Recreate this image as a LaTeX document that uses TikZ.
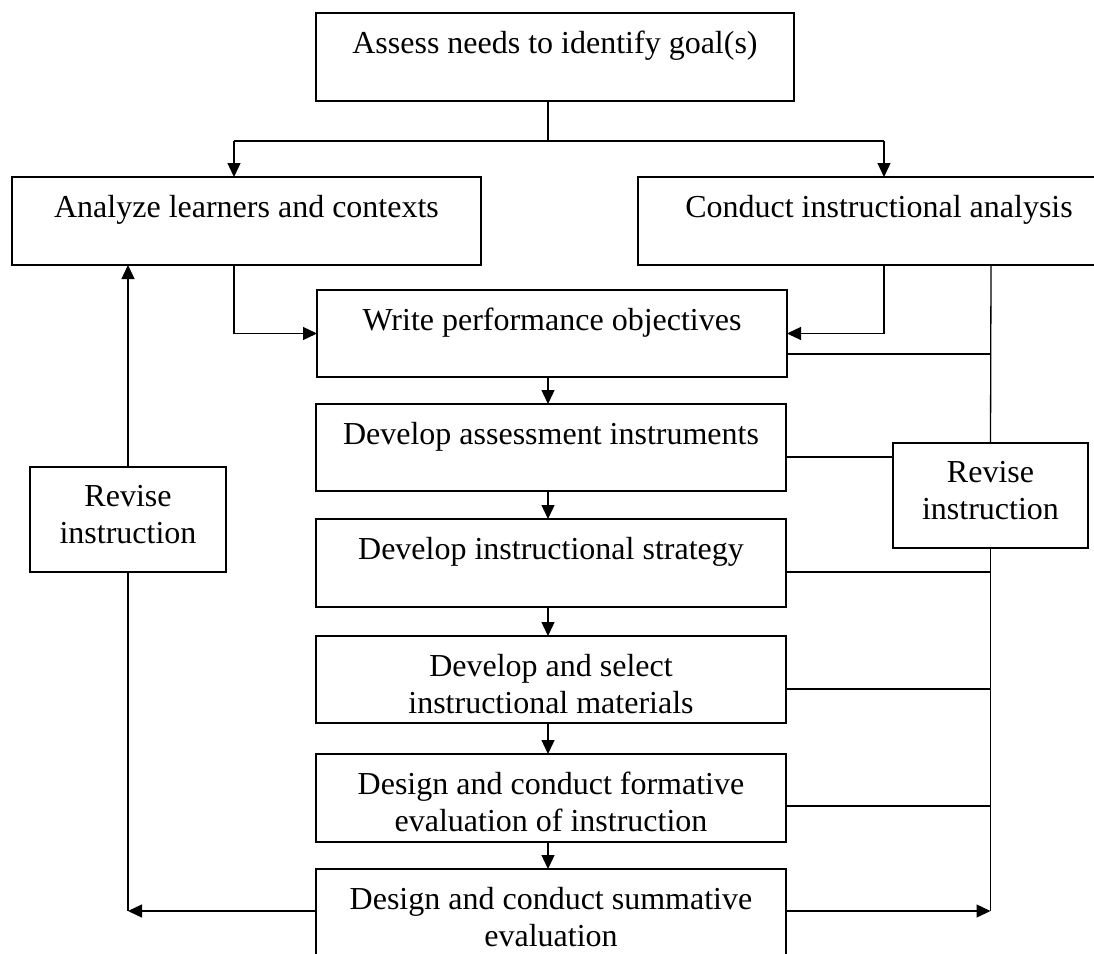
\documentclass[tikz,border=0pt]{standalone}
\usepackage{fontspec}
\setmainfont{Liberation Serif}
\usetikzlibrary{arrows.meta}
\begin{document}
\begin{tikzpicture}[x=1pt, y={(0pt,-1pt)},
  box/.style={draw, line width=2pt, inner sep=0pt, outer sep=0pt},
  txt/.style={font=\fontsize{32}{37}\selectfont, align=center, inner sep=0pt, anchor=north},
  conn/.style={line width=1.3pt},
  arr/.style={conn, -{Triangle[length=14pt,width=13pt]}}]
\useasboundingbox (0,0) rectangle (1094,953);
% boxes
\node[box, minimum width=478pt, minimum height=88pt] (A) at (555,57) {};
\node[box, minimum width=469pt, minimum height=88pt] (L) at (246.5,221) {};
\node[box, minimum width=462pt, minimum height=88pt] (R) at (869,221) {};
\node[box, minimum width=470pt, minimum height=87pt] (W) at (552,333.5) {};
\node[box, minimum width=470pt, minimum height=87pt] (S) at (551,447.5) {};
\node[box, minimum width=470pt, minimum height=88pt] (T) at (551,563) {};
\node[box, minimum width=470pt, minimum height=87pt] (M) at (551,679.5) {};
\node[box, minimum width=470pt, minimum height=88pt] (F) at (551,798) {};
\node[box, minimum width=470pt, minimum height=131pt] (U) at (551,934.5) {};
\node[box, minimum width=196pt, minimum height=105pt] (RL) at (128,519.5) {};
\node[box, minimum width=195pt, minimum height=105pt] (RR) at (990.5,495.5) {};
% texts
\node[txt] (At) at ([yshift=-18pt]A.north) {Assess needs to identify goal(s)};
\node[txt] (Lt) at ([yshift=-18pt]L.north) {Analyze learners and contexts};
\node[txt] (Rt) at ([yshift=-18pt]R.north -| 879,0) {Conduct instructional analysis};
\node[txt] (Wt) at ([yshift=-18pt]W.north) {Write performance objectives};
\node[txt] (St) at ([yshift=-18pt]S.north) {Develop assessment instruments};
\node[txt] (Tt) at ([yshift=-18pt]T.north) {Develop instructional strategy};
\node[txt] (Mt) at ([yshift=-18pt]M.north) {Develop and select\\instructional materials};
\node[txt] (Ft) at ([yshift=-18pt]F.north) {Design and conduct formative\\evaluation of instruction};
\node[txt] (Ut) at ([yshift=-18pt]U.north) {Design and conduct summative\\evaluation};
\node[txt] (RLt) at ([yshift=-18pt]RL.north) {Revise\\instruction};
\node[txt] (RRt) at ([yshift=-18pt]RR.north) {Revise\\instruction};
% coordinates
\coordinate (mid) at (548,0);
\coordinate (j) at (548,141);
\coordinate (jl) at (234,141);
\coordinate (jr) at (884,141);
\coordinate (bus) at (991,0);
\coordinate (ul) at (0,911);
\coordinate (w1) at (0,354);
\coordinate (s1) at (0,457);
\coordinate (t1) at (0,572);
\coordinate (m1) at (0,689);
\coordinate (f1) at (0,806);
% connectors
\draw[conn] (A.south -| mid) -- (j);
\draw[conn] (jl) -- (jr);
\draw[arr] (jl) -- (jl |- L.north);
\draw[arr] (jr) -- (jr |- R.north);
\draw[arr] (jl |- L.south) |- (W.west);
\draw[arr] (jr |- R.south) |- (W.east);
\draw[arr] (W.south -| mid) -- (S.north -| mid);
\draw[arr] (S.south -| mid) -- (T.north -| mid);
\draw[arr] (T.south -| mid) -- (M.north -| mid);
\draw[arr] (M.south -| mid) -- (F.north -| mid);
\draw[arr] (F.south -| mid) -- (U.north -| mid);
% right feedback
\draw[conn] (bus |- R.south) -- (RR.north);
\draw[conn] (W.east |- w1) -- (bus |- w1);
\draw[conn] (S.east |- s1) -- (RR.west |- s1);
\draw[conn] (T.east |- t1) -- (bus |- t1);
\draw[conn] (M.east |- m1) -- (bus |- m1);
\draw[conn] (F.east |- f1) -- (bus |- f1);
\draw[conn] (RR.south) -- (RR.south |- ul);
\draw[arr] (U.east |- ul) -- (RR.south |- ul);
% left feedback
\draw[arr] (U.west |- ul) -- (RL.south |- ul);
\draw[conn] (RL.south) -- (RL.south |- ul);
\draw[arr] (RL.north) -- (RL.north |- L.south);
\end{tikzpicture}
\end{document}
